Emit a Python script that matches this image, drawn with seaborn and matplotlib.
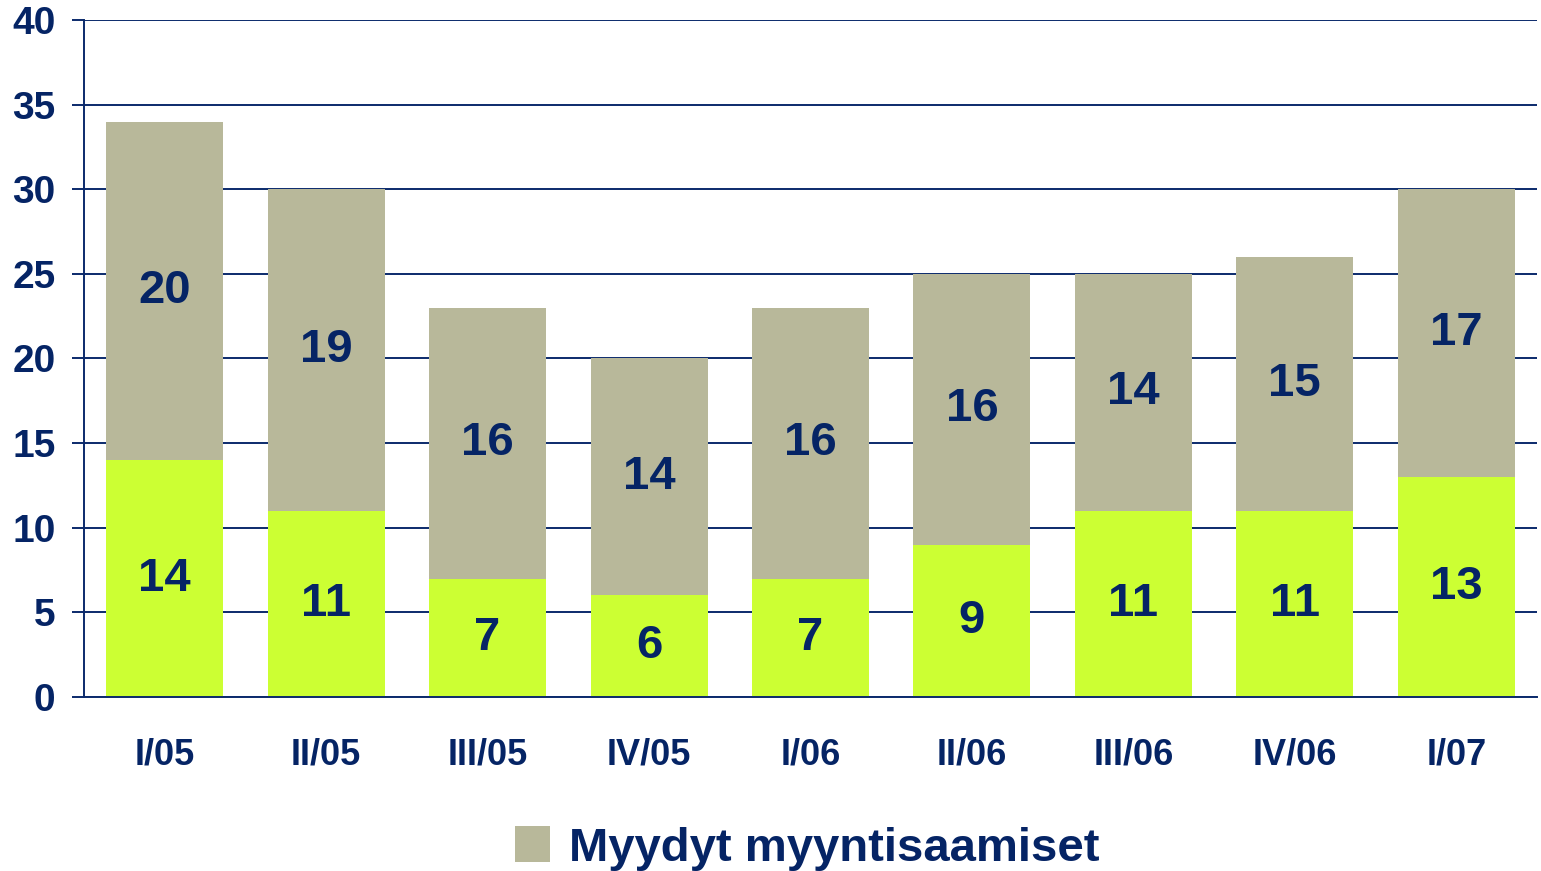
import matplotlib
matplotlib.use("Agg")
import matplotlib.pyplot as plt
import seaborn as sns
import pandas as pd
from matplotlib.patches import Patch

categories = ["I/05", "II/05", "III/05", "IV/05", "I/06", "II/06", "III/06", "IV/06", "I/07"]
sold_receivables = [20, 19, 16, 14, 16, 16, 14, 15, 17]   # gray, top
other_values = [14, 11, 7, 6, 7, 9, 11, 11, 13]           # green, bottom
legend_label = "Myydyt myyntisaamiset"
yticks = [0, 5, 10, 15, 20, 25, 30, 35, 40]

navy = "#0B2A6B"
text_navy = "#052465"
gray = "#B8B89A"
green = "#CCFF33"

sns.set_theme(style="white")
plt.rcParams['font.family'] = ['Liberation Sans', 'DejaVu Sans']
plt.rcParams['font.weight'] = 'bold'

df = pd.DataFrame({
    "cat": categories,
    "bottom": other_values,
    "top": sold_receivables,
})
df["total"] = df["bottom"] + df["top"]

fig = plt.figure(figsize=(15.41, 8.71), dpi=100)
ax = fig.add_axes([84 / 1541, 1 - 697 / 871, (1537 - 84) / 1541, (697 - 20) / 871])

sns.barplot(data=df, x="cat", y="total", color=gray, saturation=1, width=0.725, ax=ax, zorder=3)
sns.barplot(data=df, x="cat", y="bottom", color=green, saturation=1, width=0.725, ax=ax, zorder=3)
for p in ax.patches:
    p.set_zorder(3)
    p.set_edgecolor("none")

# labels
for i, (b, t) in enumerate(zip(other_values, sold_receivables)):
    ax.text(i, b / 2, str(b), ha="center", va="center", fontsize=34, fontweight="bold",
            color=text_navy, zorder=5)
    ax.text(i, b + t / 2, str(t), ha="center", va="center", fontsize=34, fontweight="bold",
            color=text_navy, zorder=5)

ax.set_ylim(0, 40)
ax.set_xlim(-0.5, len(categories) - 0.5)
ax.set_yticks(yticks)
ax.set_yticklabels([str(v) for v in yticks], fontsize=28, fontweight="bold", color=text_navy)
ax.set_xticks(range(len(categories)))
ax.set_xticklabels(categories, fontsize=26, fontweight="bold", color=text_navy)
ax.set_xticks([i - 0.5 for i in range(len(categories) + 1)], minor=True)
ax.tick_params(axis="x", which="major", length=0, pad=29)
ax.tick_params(axis="x", which="minor", length=8.6, width=1.4, color=navy, direction="out")
ax.tick_params(axis="y", which="major", length=8.6, width=1.4, color=navy, direction="out", pad=12, left=True)
ax.set_xlabel("")
ax.set_ylabel("")

ax.grid(axis="y", color=navy, linewidth=1.4, zorder=1)
ax.set_axisbelow(True)
for s in ["top", "right"]:
    ax.spines[s].set_visible(False)
for s in ["left", "bottom"]:
    ax.spines[s].set_color(navy)
    ax.spines[s].set_linewidth(1.4)
    ax.spines[s].set_zorder(4)

handles = [Patch(facecolor=gray, edgecolor="none", label=legend_label)]
leg = fig.legend(handles=handles, loc="center", bbox_to_anchor=(0.524, 0.026), frameon=False,
                 prop={"size": 34, "weight": "bold"}, handlelength=0.75, handleheight=0.8,
                 handletextpad=0.4)
for txt in leg.get_texts():
    txt.set_color(text_navy)

fig.savefig("out.png", dpi=100)
